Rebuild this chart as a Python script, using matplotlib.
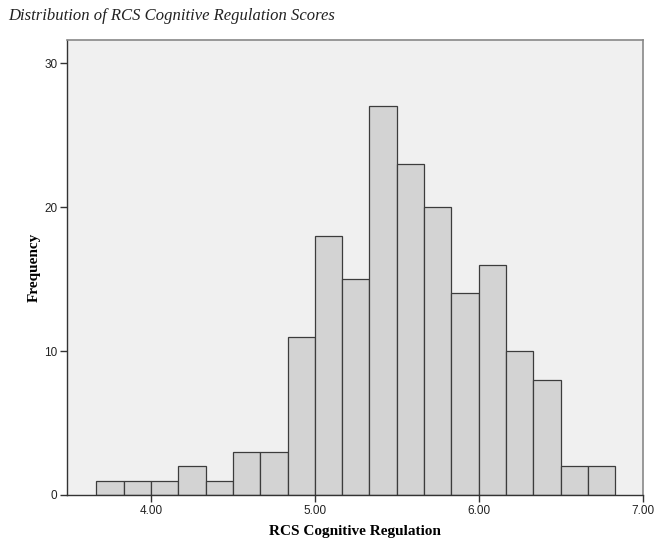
import matplotlib

matplotlib.use("Agg")

import matplotlib.pyplot as plt
import numpy as np

# Histogram data (19 bins, width 1/6)
bin_start = 3.6667
bin_width = 1.0 / 6.0
counts = [1, 1, 1, 2, 1, 3, 3, 11, 18, 15, 27, 23, 20, 14, 16, 10, 8, 2, 2]
x_ticks = [4.0, 5.0, 6.0, 7.0]
x_tick_labels = ["4.00", "5.00", "6.00", "7.00"]
y_ticks = [0, 10, 20, 30]

title = "Distribution of RCS Cognitive Regulation Scores"
x_label = "RCS Cognitive Regulation"
y_label = "Frequency"

edges = bin_start + bin_width * np.arange(len(counts))

fig = plt.figure(figsize=(6.62, 5.49), dpi=100)
ax = fig.add_axes([0.1012, 0.0984, 0.8701, 0.8287])

ax.set_facecolor("#f0f0f0")
ax.bar(edges, counts, width=bin_width, align="edge",
       color="#d3d3d3", edgecolor="#3c3c3c", linewidth=0.9)

ax.set_xlim(3.487, 7.003)
ax.set_ylim(0, 31.6)

ax.set_xticks(x_ticks)
ax.set_xticklabels(x_tick_labels)
ax.set_yticks(y_ticks)
ax.tick_params(axis="both", direction="out", length=5, width=1,
               color="#333333", labelsize=8.5, labelcolor="#222222", pad=2)
for lbl in ax.get_xticklabels() + ax.get_yticklabels():
    lbl.set_family("Liberation Sans")

for side in ["left", "bottom"]:
    ax.spines[side].set_color("#333333")
    ax.spines[side].set_linewidth(1.0)
for side in ["top", "right"]:
    ax.spines[side].set_color("#888888")
    ax.spines[side].set_linewidth(1.2)

ax.set_xlabel(x_label, family="Liberation Serif", fontweight="bold",
              fontsize=11, labelpad=6)
ax.set_ylabel(y_label, family="Liberation Serif", fontweight="bold",
              fontsize=11, labelpad=2)

fig.text(0.012, 0.970, title, family="Liberation Serif", style="italic",
         fontsize=12, ha="left", va="center", color="#222222")

fig.savefig("out.png", dpi=100)
